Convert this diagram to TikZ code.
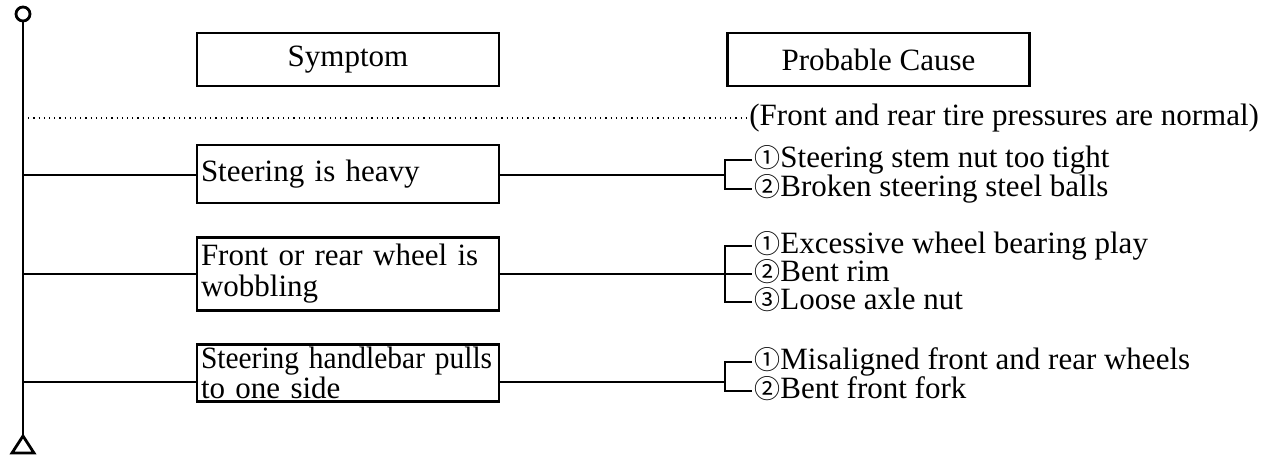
\documentclass[tikz,border=0pt]{standalone}
\usepackage{fontspec}
\setmainfont{Liberation Serif}
\newfontfamily\circfont{Noto Sans CJK SC}
\newcommand{\circnum}[1]{{\circfont\fontsize{13}{13}\selectfont#1}}

\begin{document}
\begin{tikzpicture}[
  x=0.5pt,y=-0.5pt,
  line width=1.4pt,
  font=\fontsize{15.5}{15.5}\selectfont,
  head/.style={draw,minimum width=151pt,minimum height=26.5pt,inner sep=0pt},
  symbox/.style={draw,text width=147pt,inner xsep=2pt,inner ysep=1.5pt,
                 align=left,minimum height=#1},
  symbox/.default=29pt,
  cause/.style={anchor=west,inner xsep=0.5pt,inner ysep=0pt,
                text height=10.5pt,text depth=2.8pt},
  note/.style={dotted,line width=0.6pt}
]
\useasboundingbox (0,0) rectangle (1269,458);

\node[draw,circle,minimum size=7pt,inner sep=0pt] (head) at (23,14) {};
\coordinate (tail) at (23,436);
\draw (head.south) -- (tail);
\draw (tail) -- ++(-11,17) -- ++(22,0) -- cycle;

\node[head] (symptom) at (348,59.5) {Symptom};
\node[head] (cause) at (878.5,59.5) {Probable Cause};

\node[anchor=west,inner xsep=1pt] (pressure) at (746,118) {(Front and rear tire pressures are normal)};
\draw[note] (head |- pressure) -- (pressure.west);

\node[symbox] (heavy) at (348,174) {Steering is heavy};
\node[symbox=36.5pt] (wobble) at (348,274) {Front or rear wheel is\\wobbling};
\node[symbox=28.5pt,inner ysep=0pt,font=\fontsize{15.5}{13}\selectfont] (pull) at (348,373)
  {\mbox{\scalebox{0.95}[1]{Steering handlebar pulls}}\\to one side};

\coordinate (b1) at (725,175);
\coordinate (b2) at (725,274);
\coordinate (b3) at (725,382);

\node[cause] (c11) at (752,160) {\circnum{①}Steering stem nut too tight};
\node[cause] (c12) at (752,189) {\circnum{②}Broken steering steel balls};
\node[cause] (c21) at (752,246) {\circnum{①}Excessive wheel bearing play};
\node[cause] (c22) at (752,274) {\circnum{②}Bent rim};
\node[cause] (c23) at (752,302) {\circnum{③}Loose axle nut};
\node[cause] (c31) at (752,362) {\circnum{①}Misaligned front and rear wheels};
\node[cause] (c32) at (752,391) {\circnum{②}Bent front fork};

\draw (head |- b1) -- (b1 -| heavy.west);
\draw (head |- b2) -- (b2 -| wobble.west);
\draw (head |- b3) -- (b3 -| pull.west);
\draw (heavy.east |- b1) -- (b1);
\draw (wobble.east |- b2) -- (b2);
\draw (pull.east |- b3) -- (b3);
\draw (c11.west) -| (b1) |- (c12.west);
\draw (c21.west) -| (b2) |- (c23.west);
\draw (b2) -- (c22.west);
\draw (c31.west) -| (b3) |- (c32.west);
\end{tikzpicture}
\end{document}
